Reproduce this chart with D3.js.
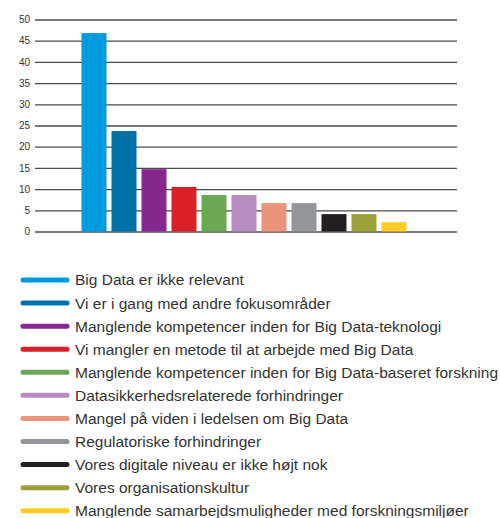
<!DOCTYPE html>
<html lang="da">
<head>
    <meta charset="UTF-8">
    <title>Big Data</title>
    <script src="https://cdnjs.cloudflare.com/ajax/libs/d3/7.8.5/d3.min.js"></script>
    <style>
        body { margin: 0; background: #fff; }
        svg text { font-family: "Liberation Sans", Arial, sans-serif; fill: #333; }
    </style>
</head>
<body>
<svg width="500" height="518"></svg>
<script>
    var categories = [
        "Big Data er ikke relevant",
        "Vi er i gang med andre fokusområder",
        "Manglende kompetencer inden for Big Data-teknologi",
        "Vi mangler en metode til at arbejde med Big Data",
        "Manglende kompetencer inden for Big Data-baseret forskning",
        "Datasikkerhedsrelaterede forhindringer",
        "Mangel på viden i ledelsen om Big Data",
        "Regulatoriske forhindringer",
        "Vores digitale niveau er ikke højt nok",
        "Vores organisationskultur",
        "Manglende samarbejdsmuligheder med forskningsmiljøer"
    ];
    var values = [46.8, 23.7, 14.7, 10.5, 8.6, 8.6, 6.7, 6.7, 4.1, 4.1, 2.2];
    var colors = ["#009ade", "#0072a7", "#86288e", "#da2128", "#6da753", "#b78cc0",
                  "#ea947a", "#939598", "#231f20", "#9da039", "#ffcb25"];
    var yTicks = [0, 5, 10, 15, 20, 25, 30, 35, 40, 45, 50];

    var svg = d3.select("svg");

    var y = d3.scaleLinear().domain([0, 50]).range([231.5, 19.5]);
    // bands start at the first bar, step 30px, bar 25px wide
    var x = d3.scaleBand()
            .domain(categories)
            .range([79, 409])
            .paddingInner(5 / 30)
            .paddingOuter(5 / 60);

    // gridlines
    var yAxis = svg.append("g")
            .attr("transform", "translate(35,0)")
            .call(d3.axisLeft(y).tickValues(yTicks).tickSize(-422).tickPadding(5));
    yAxis.select(".domain").remove();
    yAxis.selectAll(".tick line")
            .attr("stroke", "#4a4a4a")
            .attr("stroke-width", 1.3);
    yAxis.selectAll(".tick text")
            .attr("font-size", 10)
            .attr("fill", "#333");

    svg.append("g")
            .selectAll("rect")
            .data(values)
            .enter().append("rect")
            .attr("x", function(d, i) { return x(categories[i]); })
            .attr("y", function(d) { return y(d); })
            .attr("width", x.bandwidth())
            .attr("height", function(d) { return y(0) - y(d); })
            .attr("fill", function(d, i) { return colors[i]; });

    // legend
    var legend = svg.append("g")
            .selectAll("g")
            .data(categories)
            .enter().append("g")
            .attr("transform", function(d, i) { return "translate(0," + (280 + i * 23.07) + ")"; });

    legend.append("line")
            .attr("x1", 23)
            .attr("x2", 67)
            .attr("stroke", function(d, i) { return colors[i]; })
            .attr("stroke-width", 5)
            .attr("stroke-linecap", "round");

    legend.append("text")
            .attr("x", 75)
            .attr("dy", "0.35em")
            .attr("font-size", 15.5)
            .text(function(d) { return d; });
</script>
</body>
</html>
